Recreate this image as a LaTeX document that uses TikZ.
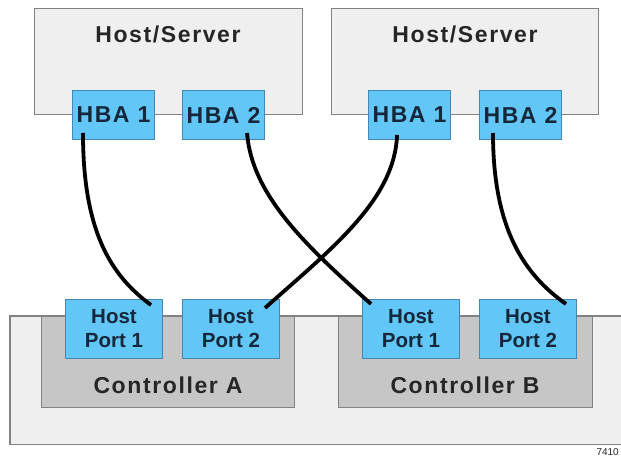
\documentclass[tikz,border=0pt]{standalone}
\usepackage{fontspec}
\setmainfont{Liberation Sans}
\newfontfamily\trackfont[LetterSpace=7]{Liberation Sans}
\definecolor{boxgray}{HTML}{EFEFEF}
\definecolor{edgegray}{HTML}{828282}
\definecolor{hbablue}{HTML}{62C6F6}
\definecolor{hbaedge}{HTML}{4686B4}
\definecolor{ctrlgray}{HTML}{C6C6C6}
\definecolor{txtgray}{HTML}{262626}
\definecolor{txtblue}{HTML}{15273A}
\tikzset{
  hostbox/.style={draw=edgegray, fill=boxgray, line width=1.3pt, anchor=north west, inner sep=0pt},
  ctrlbox/.style={draw=edgegray, fill=ctrlgray, line width=1.3pt, anchor=north west, inner sep=0pt},
  bluebox/.style={draw=hbaedge, fill=hbablue, line width=1pt, anchor=north west, inner sep=0pt,
     text=txtblue, align=center},
  hbabox/.style={bluebox, minimum width=82pt, minimum height=49pt,
     font=\trackfont\bfseries\fontsize{23}{26}\selectfont},
  portbox/.style={bluebox, minimum width=97pt, minimum height=59pt,
     font=\bfseries\fontsize{20.5}{24}\selectfont},
  biglabel/.style={text=txtgray, font=\trackfont\bfseries\fontsize{23}{26}\selectfont, inner sep=0pt},
  cable/.style={line width=3.8pt, black}
}
\begin{document}
\begin{tikzpicture}[x=1pt,y=-1pt]
\useasboundingbox (0,0) rectangle (621,457);
\fill[white] (0,0) rectangle (621,457);
% enclosure
\node[fill=boxgray, anchor=north west, inner sep=0pt, minimum width=611pt, minimum height=128pt] (encl) at (10,316) {};
\draw[edgegray, line width=1.3pt] (encl.north east) -- (encl.north west) -- (encl.south west) -- (encl.south east);
% hosts
\node[hostbox, minimum width=268pt, minimum height=106pt] (hostL) at (34,8) {};
\node[hostbox, minimum width=267pt, minimum height=106pt] (hostR) at (331,8) {};
\node[biglabel] (hostLlab) at (168,34) {Host/Server};
\node[biglabel] (hostRlab) at (465,34) {Host/Server};
% HBAs
\node[hbabox] (hL1) at (72,90) {HBA 1};
\node[hbabox] (hL2) at (182,90) {HBA 2};
\node[hbabox] (hR1) at (368,90) {HBA 1};
\node[hbabox] (hR2) at (479,90) {HBA 2};
% controllers
\node[ctrlbox, minimum width=253pt, minimum height=91pt] (ctrlA) at (41,316) {};
\node[ctrlbox, minimum width=254pt, minimum height=91pt] (ctrlB) at (338,316) {};
\node[biglabel] (ctrlAlab) at (168,385) {Controller A};
\node[biglabel] (ctrlBlab) at (465,385) {Controller B};
% ports
\node[portbox] (pA1) at (65,299) {Host\\Port 1};
\node[portbox] (pA2) at (182,299) {Host\\Port 2};
\node[portbox] (pB1) at (362,299) {Host\\Port 1};
\node[portbox] (pB2) at (479,299) {Host\\Port 2};
% cable ends
\coordinate (c1s) at (83,133);  \coordinate (c1e) at (151,305);
\coordinate (c2s) at (247,133); \coordinate (c2e) at (371,304);
\coordinate (c3s) at (397,135); \coordinate (c3e) at (265,308);
\coordinate (c4s) at (493,133); \coordinate (c4e) at (566,304);
\draw[cable] (c1s) .. controls (83,230) and (110,275) .. (c1e);
\draw[cable] (c2s) .. controls (252,195) and (305,245) .. (c2e);
\draw[cable] (c3s) .. controls (395,200) and (330,250) .. (c3e);
\draw[cable] (c4s) .. controls (493,230) and (525,275) .. (c4e);
% figure number
\node[anchor=south east, inner sep=0pt, text=txtgray, font=\fontsize{10}{12}\selectfont] (fignum) at (619,456) {7410};
\end{tikzpicture}
\end{document}
